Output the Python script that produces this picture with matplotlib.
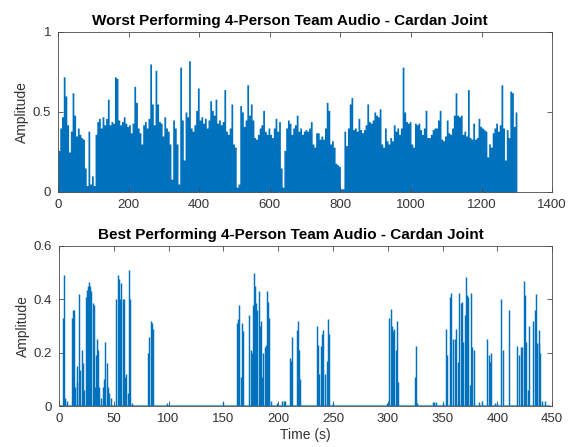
import numpy as np
import matplotlib
matplotlib.use("Agg")
import matplotlib.pyplot as plt

# worst team: peak amplitude per 5 s window, t = 0 .. 1300 s
worst_step = 5
worst_amp = [
    0.26, 0.40, 0.47, 0.72, 0.60, 0.42, 0.25, 0.38, 0.62, 0.48,
    0.35, 0.40, 0.36, 0.34, 0.33, 0.15, 0.04, 0.38, 0.05, 0.10,
    0.04, 0.36, 0.44, 0.46, 0.40, 0.47, 0.42, 0.46, 0.58, 0.42,
    0.44, 0.43, 0.72, 0.71, 0.45, 0.42, 0.44, 0.47, 0.43, 0.41,
    0.42, 0.37, 0.43, 0.66, 0.56, 0.40, 0.37, 0.30, 0.42, 0.44,
    0.40, 0.46, 0.80, 0.55, 0.42, 0.76, 0.55, 0.44, 0.43, 0.35,
    0.47, 0.40, 0.38, 0.30, 0.08, 0.45, 0.40, 0.30, 0.05, 0.78,
    0.45, 0.20, 0.50, 0.47, 0.82, 0.40, 0.38, 0.42, 0.51, 0.65,
    0.45, 0.47, 0.43, 0.46, 0.40, 0.45, 0.57, 0.51, 0.48, 0.58,
    0.43, 0.45, 0.42, 0.44, 0.64, 0.38, 0.36, 0.40, 0.55, 0.30,
    0.28, 0.03, 0.05, 0.54, 0.50, 0.41, 0.45, 0.67, 0.48, 0.55,
    0.45, 0.34, 0.33, 0.36, 0.40, 0.42, 0.51, 0.38, 0.36, 0.40,
    0.36, 0.34, 0.40, 0.46, 0.38, 0.44, 0.15, 0.03, 0.26, 0.40,
    0.45, 0.43, 0.36, 0.40, 0.42, 0.48, 0.38, 0.40, 0.36, 0.38,
    0.39, 0.38, 0.40, 0.44, 0.30, 0.28, 0.37, 0.37, 0.33, 0.35,
    0.33, 0.40, 0.56, 0.51, 0.30, 0.32, 0.28, 0.18, 0.17, 0.16,
    0.02, 0.02, 0.38, 0.29, 0.40, 0.55, 0.59, 0.39, 0.40, 0.38,
    0.46, 0.39, 0.37, 0.39, 0.42, 0.55, 0.44, 0.43, 0.45, 0.50,
    0.48, 0.47, 0.52, 0.30, 0.28, 0.40, 0.32, 0.30, 0.34, 0.32,
    0.42, 0.38, 0.40, 0.36, 0.40, 0.78, 0.50, 0.44, 0.43, 0.44,
    0.30, 0.28, 0.43, 0.42, 0.43, 0.39, 0.36, 0.40, 0.51, 0.34,
    0.34, 0.36, 0.39, 0.40, 0.40, 0.45, 0.51, 0.33, 0.32, 0.35,
    0.45, 0.37, 0.36, 0.40, 0.48, 0.62, 0.48, 0.47, 0.48, 0.36,
    0.38, 0.35, 0.64, 0.34, 0.33, 0.43, 0.33, 0.34, 0.46, 0.41,
    0.40, 0.39, 0.38, 0.22, 0.30, 0.28, 0.37, 0.40, 0.43, 0.38,
    0.42, 0.67, 0.40, 0.20, 0.39, 0.34, 0.63, 0.62, 0.41, 0.50, 0.47,
]

# best team: individual peaks (time s, amplitude)
best_t = [
    4.0, 4.9, 5.8, 7.0,
    11.9, 12.5, 13.4, 14.6, 16.0, 16.7, 18.0, 19.2, 20.7, 21.6, 23.1,
    24.6, 25.6, 26.8, 27.7, 28.6, 29.5, 30.7, 31.6, 33.2, 33.8, 34.7, 35.6,
    36.8, 38.3, 39.8, 41.4, 42.3, 43.5, 44.4, 45.9, 47.5,
    52.0, 53.5, 54.5, 55.7, 56.6, 58.0, 59.6, 60.5, 61.4, 62.7, 64.2, 65.0, 66.6,
    81.0, 82.4, 84.0, 84.9, 86.1,
    99.0, 149.4,
    162.0, 163.0, 164.3, 165.8, 167.0, 168.3,
    173.7, 174.9, 175.8, 177.4, 178.3, 178.9, 179.8, 181.0, 182.5, 183.4,
    184.4, 185.3, 186.5, 187.7, 188.9, 189.8, 191.0, 192.0, 193.2,
    199.3, 203.7, 205.0, 206.3,
    210.8, 212.0, 213.0,
    217.0, 217.8, 219.0, 220.0,
    235.2, 236.4, 237.6, 239.0, 240.0, 241.3, 242.8, 244.3, 245.8, 246.7,
    250.4,
    299.0, 301.2, 302.7, 303.6, 304.8, 306.0, 307.2, 308.2, 309.4,
    324.6, 325.8, 327.0,
    341.0, 342.5, 344.0, 350.0,
    353.0, 353.8, 356.5, 358.0, 359.6, 361.0, 362.3, 364.1, 365.4, 366.6,
    367.8, 369.0, 370.2, 371.5, 372.4, 373.6, 374.8, 376.3, 377.2, 378.5,
    383.0, 386.0,
    390.9, 392.1, 393.3, 394.5,
    398.0, 400.0,
    403.7, 404.9,
    411.0,
    418.3, 419.5, 421.4, 422.5, 424.4, 425.3, 426.5, 427.6, 428.6,
    433.0, 434.2, 435.4, 436.6, 437.8, 438.4, 439.2, 440.4, 444.0,
]
best_amp = [
    0.33, 0.49, 0.03, 0.02,
    0.33, 0.36, 0.36, 0.07, 0.15, 0.09, 0.42, 0.135, 0.21, 0.16, 0.06,
    0.41, 0.435, 0.45, 0.465, 0.45, 0.43, 0.385, 0.38, 0.07, 0.19, 0.25, 0.21,
    0.07, 0.03, 0.07, 0.10, 0.24, 0.16, 0.07, 0.05, 0.03,
    0.40, 0.49, 0.478, 0.40, 0.46, 0.40, 0.40, 0.11, 0.12, 0.05, 0.51, 0.40, 0.01,
    0.20, 0.26, 0.32, 0.31, 0.29,
    0.012, 0.015,
    0.31, 0.325, 0.38, 0.11, 0.31, 0.28,
    0.34, 0.21, 0.20, 0.38, 0.50, 0.45, 0.385, 0.36, 0.43, 0.30,
    0.32, 0.11, 0.20, 0.22, 0.23, 0.43, 0.39, 0.33, 0.02,
    0.012, 0.02, 0.02, 0.02,
    0.18, 0.17, 0.26,
    0.285, 0.32, 0.21, 0.10,
    0.30, 0.23, 0.12, 0.225, 0.27, 0.285, 0.12, 0.17, 0.325, 0.27,
    0.01,
    0.012, 0.33, 0.365, 0.30, 0.28, 0.29, 0.21, 0.32, 0.09,
    0.11, 0.225, 0.01,
    0.015, 0.015, 0.015, 0.012,
    0.29, 0.19, 0.41, 0.425, 0.25, 0.25, 0.29, 0.165, 0.425, 0.385,
    0.39, 0.24, 0.34, 0.485, 0.415, 0.41, 0.08, 0.425, 0.22, 0.21,
    0.015, 0.02,
    0.25, 0.19, 0.165, 0.20,
    0.012, 0.012,
    0.40, 0.21,
    0.36,
    0.225, 0.19, 0.22, 0.22, 0.47, 0.415, 0.24, 0.06, 0.30,
    0.32, 0.36, 0.42, 0.235, 0.235, 0.285, 0.20, 0.02, 0.02,
]
best_floor = 0.004
best_duration = 448

blue = '#0072BD'
axis_col = '#4a4a4a'
text_col = '#333333'

plt.rcParams['font.family'] = ['Liberation Sans', 'DejaVu Sans']

fig = plt.figure(figsize=(5.74, 4.47), dpi=100)
ax1 = fig.add_axes([0.101, 0.5705, 0.861, 0.358])
ax2 = fig.add_axes([0.1028, 0.0917, 0.859, 0.358])

# 上圖：最差團隊
t_worst = np.arange(len(worst_amp)) * worst_step
ax1.fill_between(t_worst, worst_amp, step='post', color=blue, linewidth=0)
ax1.set_xlim(0, 1400)
ax1.set_ylim(0, 1)
ax1.set_xticks(range(0, 1401, 200))
ax1.set_yticks([0, 0.5, 1])
ax1.set_yticklabels(['0', '0.5', '1'])
ax1.set_ylabel('Amplitude', fontsize=10, color=text_col, labelpad=3)
ax1.set_title('Worst Performing 4-Person Team Audio - Cardan Joint',
              fontsize=11, fontweight='bold', pad=5, x=0.47)

# 下圖：最佳團隊
ax2.hlines(best_floor, 0, best_duration, color=blue, linewidth=0.8, alpha=0.6)
ax2.vlines(best_t, 0, best_amp, color=blue, linewidth=1.05)
ax2.set_xlim(0, 450)
ax2.set_ylim(0, 0.6)
ax2.set_xticks(range(0, 451, 50))
ax2.set_yticks([0, 0.2, 0.4, 0.6])
ax2.set_yticklabels(['0', '0.2', '0.4', '0.6'])
ax2.set_ylabel('Amplitude', fontsize=10, color=text_col, labelpad=3)
ax2.set_xlabel('Time (s)', fontsize=10, color=text_col, labelpad=2)
ax2.set_title('Best Performing 4-Person Team Audio - Cardan Joint',
              fontsize=11, fontweight='bold', pad=5, x=0.47)

for ax in (ax1, ax2):
    for s in ax.spines.values():
        s.set_color(axis_col)
        s.set_linewidth(0.6)
    ax.tick_params(direction='in', length=3.5, width=0.6, color=axis_col,
                   labelcolor=text_col, labelsize=9.5, top=True, right=True, pad=5)

fig.savefig('out.png', dpi=100)
